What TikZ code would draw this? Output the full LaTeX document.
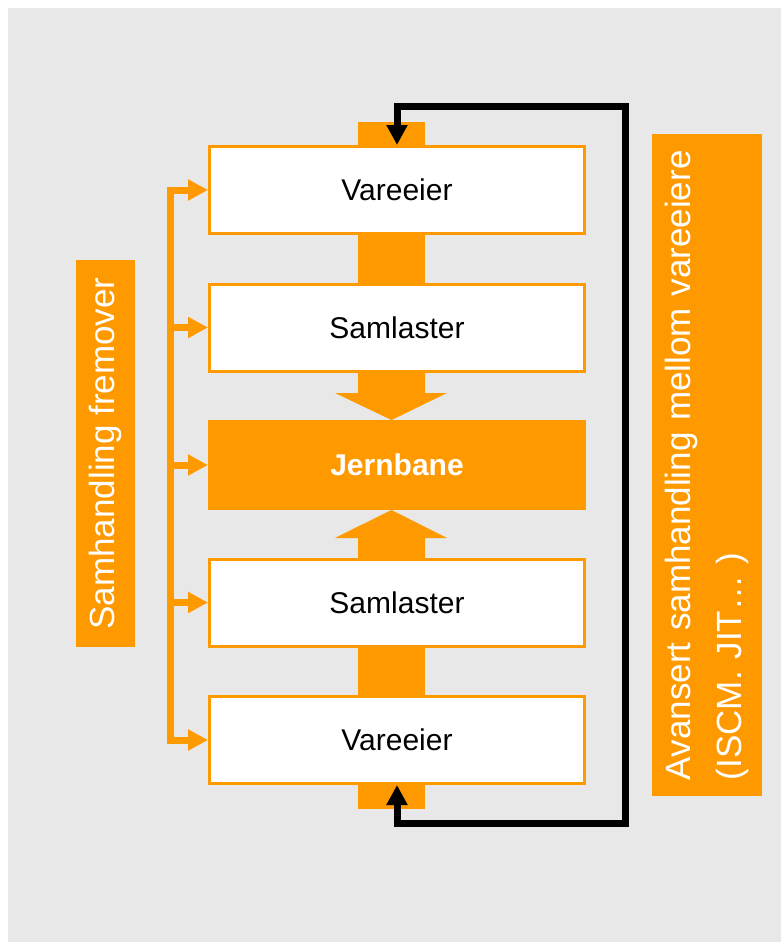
\documentclass[tikz,border=0pt]{standalone}
\usepackage{fontspec}
\setmainfont{Liberation Sans}
\usetikzlibrary{arrows.meta}
\definecolor{orangec}{RGB}{255,153,0}
\definecolor{bggray}{RGB}{232,232,232}
\tikzset{
  box/.style={draw=orangec, line width=3pt, fill=white, minimum width=375pt, minimum height=87pt,
    inner sep=0pt, font=\fontsize{30}{36}\selectfont, text=black},
  railbox/.style={box, fill=orangec, draw=orangec, text=white, font=\fontsize{30}{36}\selectfont\bfseries},
  label/.style={fill=orangec, text=white, rotate=90, inner sep=0pt, font=\fontsize{35}{51}\selectfont},
  bus/.style={draw=orangec, line width=7pt},
  busarrow/.style={bus, -{Triangle[width=20pt,length=20pt]}},
  feedback/.style={draw=black, line width=7pt, line join=miter,
    {Triangle[width=20pt,length=20pt]}-{Triangle[width=20pt,length=20pt]}},
  flow/.style={fill=orangec}
}
\begin{document}
\begin{tikzpicture}[x=1pt,y=-1pt]
\useasboundingbox (0,0) rectangle (781,942);
\fill[white] (0,0) rectangle (781,942);
\fill[bggray] (8,8) rectangle (781,942);
% orange flow column
\fill[flow] (358,122) rectangle (425,147);
\fill[flow] (358,233) rectangle (425,285);
\fill[flow] (358,370) -- (358,393) -- (335,393) -- (391.5,420) -- (447,393) -- (425,393) -- (425,370) -- cycle;
\fill[flow] (358,560) -- (358,538) -- (335,538) -- (391.5,510) -- (447,538) -- (425,538) -- (425,560) -- cycle;
\fill[flow] (358,645) rectangle (425,697);
\fill[flow] (358,783) rectangle (425,809);
% boxes
\node[box] (v1) at (397,190) {Vareeier};
\node[box] (s1) at (397,327.5) {Samlaster};
\node[railbox] (j) at (397,465) {Jernbane};
\node[box] (s2) at (397,602.5) {Samlaster};
\node[box] (v2) at (397,740) {Vareeier};
% left bus
\coordinate (bx) at (170,0);
\draw[bus, line cap=rect] (v1.west -| bx) -- (v2.west -| bx);
\foreach \n in {v1,s1,j,s2,v2} {
  \draw[busarrow] (\n.west -| bx) -- (\n.west);
}
% labels
\node[label, minimum width=387pt, minimum height=59pt] (lf) at (105.5,453.5) {Samhandling fremover};
\node[label, minimum width=662pt, minimum height=110pt, text width=630pt, align=left] (rt) at (707,465)
  {Avansert samhandling mellom vareeiere\\(ISCM. JIT… )};
% feedback loop
\coordinate (ltop) at (625,106);
\coordinate (lbot) at (625,823);
\draw[feedback] (v1.north) |- (ltop) -- (lbot) -| (v2.south);
\end{tikzpicture}
\end{document}
